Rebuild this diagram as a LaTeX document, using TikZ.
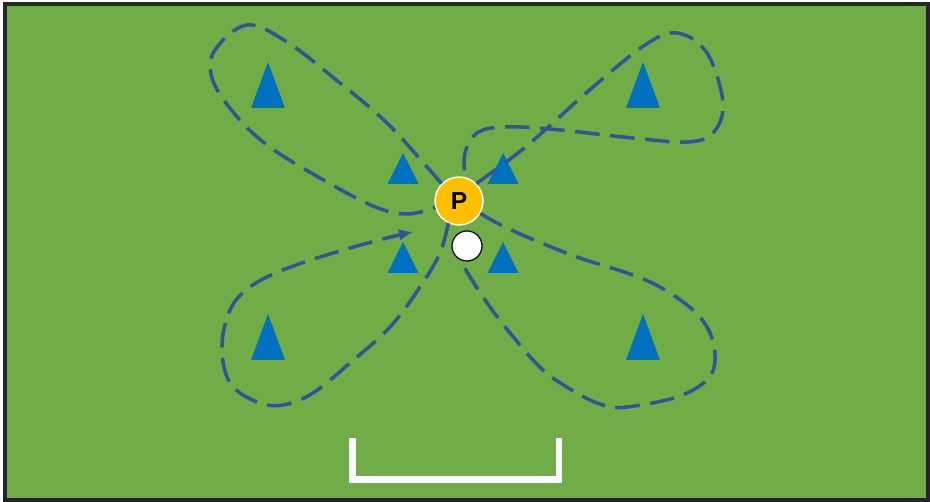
\documentclass[tikz,border=0pt]{standalone}
\usepackage{fontspec}
\setsansfont{Liberation Sans}
\usetikzlibrary{arrows.meta}
\definecolor{pitch}{HTML}{70AD47}
\definecolor{conecol}{HTML}{0070C0}
\definecolor{runcol}{HTML}{2F5597}
\definecolor{playercol}{HTML}{FFC000}
\definecolor{framecol}{HTML}{262626}
\begin{document}
\begin{tikzpicture}[x=0.02cm,y=-0.02cm,
  run/.style={draw=runcol,line width=2pt,dash pattern=on 14pt off 6pt},
  cone/.style={fill=conecol},
  player/.style={circle,fill=playercol,draw=white,line width=0.8pt,minimum size=0.96cm,inner sep=0pt,font=\sffamily\bfseries\fontsize{14}{14}\selectfont},
  ball/.style={circle,fill=white,draw=black,line width=0.7pt,minimum size=0.6cm,inner sep=0pt}]
\useasboundingbox (0,0) rectangle (930,502);
% pitch
\fill[white] (0,0) rectangle (930,502);
\filldraw[fill=pitch,draw=framecol,line width=2.3pt] (5,4) rectangle (928,500);
% goal
\draw[white,line width=3.7pt] (352.5,438) -- (352.5,479.5) -- (559,479.5) -- (559,438);
% cones
\foreach \x in {268,643} {
  \fill[cone] (\x-17,108) -- (\x,62) -- (\x+17,108) -- cycle;
  \fill[cone] (\x-17,360) -- (\x,314) -- (\x+17,360) -- cycle;
}
\foreach \x in {403,503} {
  \fill[cone] (\x-15.5,184) -- (\x,153) -- (\x+15.5,184) -- cycle;
  \fill[cone] (\x-15.5,273) -- (\x,242) -- (\x+15.5,273) -- cycle;
}
% player and ball
\node[player] (P) at (459,201) {P};
\node[ball] (ball) at (467,246) {};
% runs
\draw[run] plot[smooth,tension=0.6] coordinates {(P.135) (427,167) (387,123) (340,83) (287,42) (247,25) (215,50) (212,78) (233,112) (267,145) (320,178) (373,206) (407,214) (P.195)};
\draw[run] plot[smooth,tension=0.6] coordinates {(P.45) (518,153) (545,130) (593,87) (645,45) (677,33) (707,53) (723,103) (713,133) (687,142) (633,138) (550,129) (503,127) (477,133) (465,153) (P.76)};
\draw[run,-{Latex[length=8pt,width=7pt]}] plot[smooth,tension=0.6] coordinates {(P.244) (440,253) (420,287) (390,327) (350,363) (313,393) (283,405) (257,402) (230,383) (222,347) (230,310) (250,287) (283,270) (333,253) (387,238) (413,232)};
\draw[run] plot[smooth,tension=0.6] coordinates {(P.330) (497,223) (527,237) (577,257) (627,273) (660,287) (693,310) (710,333) (715,360) (707,380) (677,397) (627,407) (603,405) (577,393) (543,370) (510,333) (483,297) (ball.242)};
\end{tikzpicture}
\end{document}
